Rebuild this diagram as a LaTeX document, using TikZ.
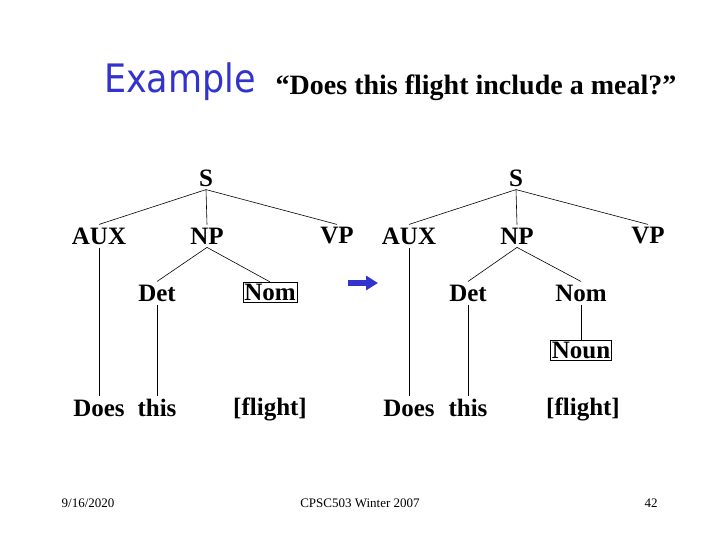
\documentclass[tikz,border=0pt]{standalone}
\usepackage{fontspec}
\usepackage{graphicx}
\setmainfont{Liberation Serif}
\newfontfamily\titlefont{DejaVu Sans}
\usetikzlibrary{arrows.meta}
\definecolor{slideblue}{RGB}{50,50,205}
\begin{document}
\begin{tikzpicture}[x=1pt,y=-1pt,
  cat/.style={font=\fontsize{25}{27}\selectfont\bfseries, inner sep=3pt},
  boxcat/.style={cat, draw, line width=0.6pt, inner sep=1.5pt},
  word/.style={font=\fontsize{25}{27}\selectfont\bfseries, inner sep=3pt},
  br/.style={line width=0.6pt},
  foot/.style={font=\fontsize{13}{15}\selectfont}]
\useasboundingbox (0,0) rectangle (720,540);
% title
\node[font=\titlefont\fontsize{35}{40}\selectfont, text=slideblue] (title) at (180,82) {\scalebox{1}[1.12]{Example}};
\node[font=\fontsize{28}{32}\selectfont\bfseries] (quote) at (476,88) {``Does this flight include a meal?''};
% left tree
\node[cat] (S1) at (206,178) {S};
\node[cat] (AUX1) at (99,236) {AUX};
\node[cat] (NP1) at (207,236) {NP};
\node[cat] (VP1) at (337,236) {VP};
\node[cat] (Det1) at (157,293) {Det};
\node[boxcat] (Nom1) at (270,292) {Nom};
\node[word] (Does1) at (99,408) {Does};
\node[word] (this1) at (157,408) {this};
\node[word] (fl1) at (270,409) {[flight]};
\draw[br] (S1.south) -- (AUX1.north);
\draw[br] (S1.south) -- (NP1.north);
\draw[br] (S1.south) -- (VP1.north);
\draw[br] (NP1.south) -- (Det1.north);
\draw[br] (NP1.south) -- (Nom1.north);
\draw[br] (AUX1.south) -- (Does1.north);
\draw[br] (Det1.south) -- (this1.north);
% arrow
\coordinate (arA) at (348,283);
\coordinate (arB) at (378,283);
\draw[slideblue, line width=6pt, -{Triangle[length=12pt,width=14pt]}] (arA) -- (arB);
% right tree
\node[cat] (S2) at (516,178) {S};
\node[cat] (AUX2) at (409,236) {AUX};
\node[cat] (NP2) at (517,236) {NP};
\node[cat] (VP2) at (648,236) {VP};
\node[cat] (Det2) at (468,293) {Det};
\node[cat] (Nom2) at (581,293) {Nom};
\node[boxcat] (Noun2) at (581,350) {Noun};
\node[word] (Does2) at (409,408) {Does};
\node[word] (this2) at (468,408) {this};
\node[word] (fl2) at (583,409) {[flight]};
\draw[br] (S2.south) -- (AUX2.north);
\draw[br] (S2.south) -- (NP2.north);
\draw[br] (S2.south) -- (VP2.north);
\draw[br] (NP2.south) -- (Det2.north);
\draw[br] (NP2.south) -- (Nom2.north);
\draw[br] (Nom2.south) -- (Noun2.north);
\draw[br] (AUX2.south) -- (Does2.north);
\draw[br] (Det2.south) -- (this2.north);
% footer
\node[foot] (date) at (88,503) {9/16/2020};
\node[foot] (course) at (360,503) {CPSC503 Winter 2007};
\node[foot] (page) at (651,503) {42};
\end{tikzpicture}
\end{document}
